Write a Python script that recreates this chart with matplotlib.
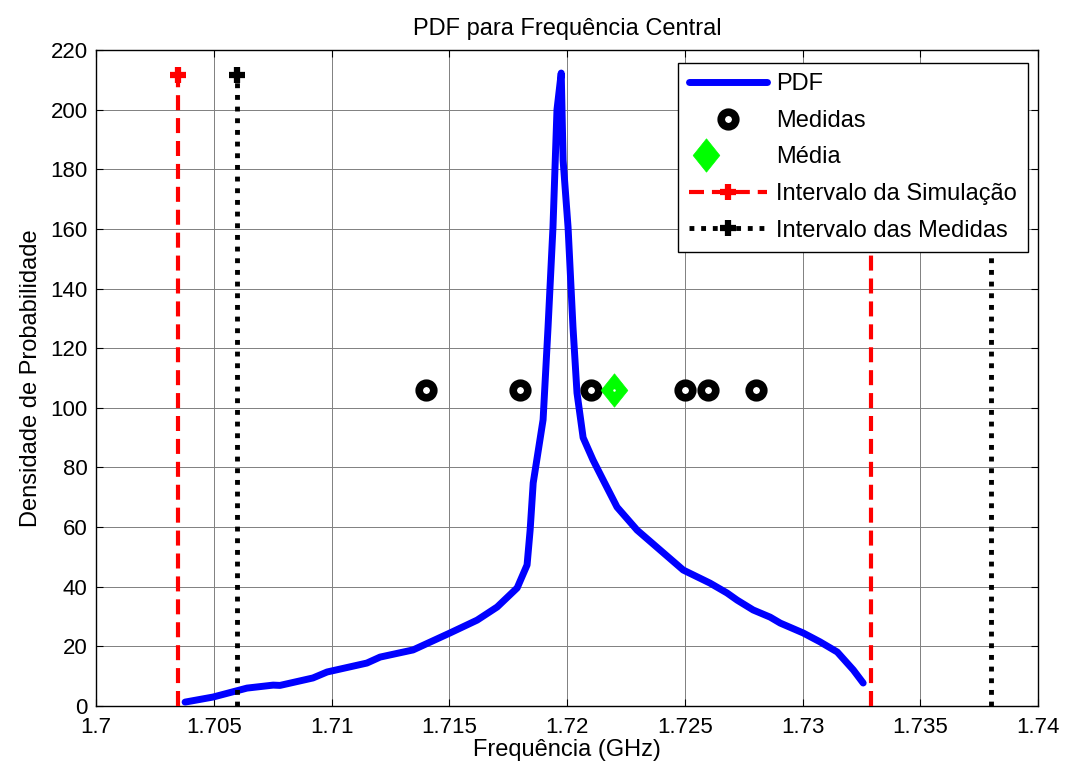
import numpy as np
import matplotlib
matplotlib.use("Agg")
import matplotlib.pyplot as plt
from matplotlib.legend_handler import HandlerLine2D, HandlerTuple
from matplotlib.path import Path

plt.rcParams['font.family'] = ['Liberation Sans', 'DejaVu Sans']

##########################
### DATA
##########################

# PDF curve
pdf_freq = [1.70378, 1.70497, 1.70641, 1.70752, 1.70781, 1.70921, 1.70981,
            1.71150, 1.71206, 1.71346, 1.71503, 1.71618, 1.71703, 1.71788,
            1.71830, 1.71843, 1.71856, 1.71898, 1.71919, 1.71940, 1.71957,
            1.71975, 1.71983, 1.72004, 1.72025, 1.72042, 1.72068, 1.72110,
            1.72153, 1.72212, 1.72297, 1.72395, 1.72493, 1.72607, 1.72679,
            1.72722, 1.72790, 1.72862, 1.72905, 1.73002, 1.73074, 1.73147,
            1.73215, 1.73257]
pdf_vals = [1.3, 3.0, 6.0, 7.0, 6.9, 9.4, 11.4,
            14.4, 16.4, 18.8, 24.5, 28.8, 33.2, 39.6,
            47.3, 59.0, 74.8, 96.0, 127.0, 160.6, 200.0,
            212.3, 183.0, 160.6, 127.0, 105.0, 90.0, 82.5,
            75.8, 66.7, 59.0, 52.3, 45.6, 41.2, 37.9,
            35.5, 32.2, 29.8, 27.8, 24.5, 21.5, 18.1,
            12.1, 7.7]

# measurements and their mean
medidas_freq = [1.714, 1.718, 1.721, 1.725, 1.726, 1.728]
medidas_y = 106
media_freq = 1.722

# interval bounds
sim_interval = [1.70348, 1.73291]
med_interval = [1.706, 1.738]
interval_top = 211.6

xticks = [1.7, 1.705, 1.71, 1.715, 1.72, 1.725, 1.73, 1.735, 1.74]
xtick_labels = ['1.7', '1.705', '1.71', '1.715', '1.72', '1.725', '1.73', '1.735', '1.74']
yticks = list(range(0, 221, 20))


class RightMarker(HandlerLine2D):
    # put the legend marker at the right end of the line sample
    def get_xdata(self, legend, xdescent, ydescent, width, height, fontsize):
        xdata, _ = super().get_xdata(legend, xdescent, ydescent, width, height, fontsize)
        return xdata, np.array([xdata[-1] - 0.08 * width])


fig = plt.figure(figsize=(10.67, 7.73), dpi=100)
ax = fig.add_axes([0.090, 0.0867, 0.883, 0.8485])

fs = 17
fs_tick = 16

pdf_line, = ax.plot(pdf_freq, pdf_vals, color='#0000ff', lw=5,
                    solid_joinstyle='round', solid_capstyle='round', zorder=3)

med_pts, = ax.plot(medidas_freq, [medidas_y] * len(medidas_freq), ls='none',
                   marker='o', ms=10.5, mew=5.5, mec='black', mfc='white', zorder=4)

diamond = Path([(0, 1), (0.8, 0), (0, -1), (-0.8, 0), (0, 1)],
               [Path.MOVETO, Path.LINETO, Path.LINETO, Path.LINETO, Path.CLOSEPOLY])
media_pt, = ax.plot([media_freq], [medidas_y], ls='none', marker=diamond,
                    ms=24, mfc='#00ff00', mec='#00ff00', mew=0.5, zorder=5)
media_dot, = ax.plot([media_freq], [medidas_y], ls='none', marker='o',
                     ms=1.8, mfc='white', mec='white', mew=0, zorder=6)

sim_lines = []
for f in sim_interval:
    ln, = ax.plot([f, f], [0, interval_top], color='#ff0000', lw=3,
                  dashes=(3.6, 1.9), dash_capstyle='butt',
                  marker='+', ms=11, mew=4.5, markevery=[1], zorder=3)
    sim_lines.append(ln)

med_lines = []
for f in med_interval:
    ln, = ax.plot([f, f], [0, interval_top], color='black', lw=3.5,
                  dashes=(1, 1.4), dash_capstyle='butt',
                  marker='+', ms=11, mew=4.5, markevery=[1], zorder=3)
    med_lines.append(ln)

ax.set_xlim(1.7, 1.74)
ax.set_ylim(0, 220)
ax.set_xticks(xticks)
ax.set_xticklabels(xtick_labels)
ax.set_yticks(yticks)
ax.tick_params(direction='in', top=True, right=True, length=5, width=0.8,
               labelsize=fs_tick)
ax.tick_params(axis='x', pad=8)
ax.tick_params(axis='y', pad=6)
ax.grid(True, color='0.5', lw=0.7, ls='-')
ax.set_axisbelow(True)
for s in ax.spines.values():
    s.set_linewidth(1.0)

ax.set_title('PDF para Frequência Central', fontsize=fs, pad=11)
ax.set_xlabel('Frequência (GHz)', fontsize=fs, labelpad=1)
ax.set_ylabel('Densidade de Probabilidade', fontsize=fs, labelpad=6)

leg = ax.legend([pdf_line, med_pts, (media_pt, media_dot), sim_lines[0], med_lines[0]],
                ['PDF', 'Medidas', 'Média', 'Intervalo da Simulação', 'Intervalo das Medidas'],
                loc='upper right', bbox_to_anchor=(0.989, 0.981), borderaxespad=0,
                fontsize=fs, fancybox=False, framealpha=1, edgecolor='black',
                handlelength=3.3, handletextpad=0.4, borderpad=0.45,
                numpoints=1, labelspacing=0.62,
                handler_map={sim_lines[0]: RightMarker(), med_lines[0]: RightMarker(),
                             tuple: HandlerTuple(ndivide=None)})
leg.get_frame().set_linewidth(1.0)

fig.savefig('out.png', dpi=100)
